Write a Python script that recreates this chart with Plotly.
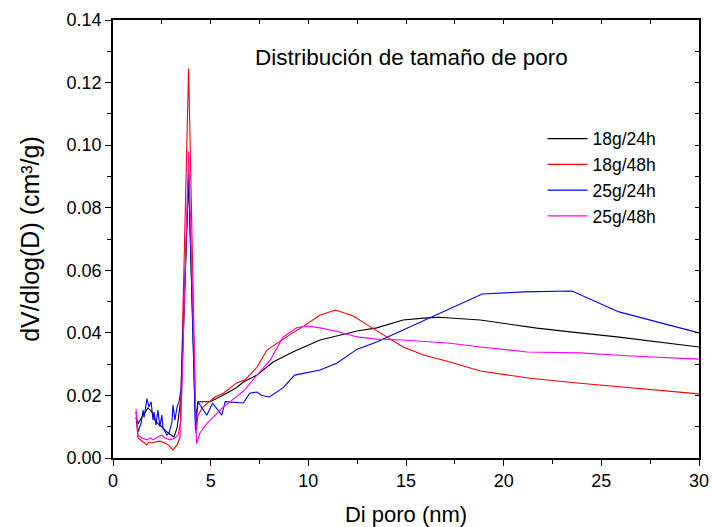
import plotly.graph_objects as go

# Pore size distribution (BJH) for four synthesis conditions
labels = ["18g/24h", "18g/48h", "25g/24h", "25g/48h"]
colors = ["#000000", "#FF0000", "#0000FF", "#FF00FF"]

x_18g_24h = [1.18, 1.28, 1.48, 1.64, 1.79, 2.0, 2.15, 2.3, 2.5, 2.76, 3.0, 3.12, 3.28, 3.38,
             3.5, 3.87, 4.22, 4.35, 4.97, 5.6, 6.3, 6.67, 7.37, 8.2, 9.2, 10.6, 11.45, 12.5,
             13.5, 14.85, 15.9, 16.7, 18.8, 21.7, 23.4, 25.8, 30.0]
y_18g_24h = [0.0130, 0.0110, 0.0130, 0.0147, 0.0160, 0.0147, 0.0121, 0.0110, 0.0100, 0.0083,
             0.0073, 0.0067, 0.0096, 0.0153, 0.0200, 0.0900, 0.0120, 0.0180, 0.0180, 0.0200,
             0.0224, 0.0243, 0.0265, 0.0307, 0.0339, 0.0377, 0.0390, 0.0406, 0.0416, 0.0441,
             0.0447, 0.0450, 0.0441, 0.0415, 0.0403, 0.0387, 0.0355]

x_18g_48h = [1.18, 1.28, 1.54, 1.74, 1.84, 2.0, 2.15, 2.4, 2.66, 2.82, 3.07, 3.28, 3.43,
             3.87, 4.25, 4.35, 4.6, 5.22, 5.65, 6.33, 6.76, 7.37, 7.88, 8.4, 9.2, 9.73, 10.6,
             11.4, 12.3, 13.16, 14.0, 14.85, 15.9, 17.26, 18.8, 21.35, 23.9, 26.1, 30.0]
y_18g_48h = [0.0131, 0.0064, 0.0051, 0.0042, 0.0051, 0.0048, 0.0051, 0.0054, 0.0048, 0.0042,
             0.0026, 0.0042, 0.0067, 0.1245, 0.0080, 0.0137, 0.0163, 0.0195, 0.0207, 0.0240,
             0.0250, 0.0290, 0.0345, 0.0367, 0.0400, 0.0420, 0.0457, 0.0473, 0.0454, 0.0420,
             0.0387, 0.0355, 0.0329, 0.0307, 0.0278, 0.0255, 0.0239, 0.0227, 0.0205]

x_25g_24h = [1.18, 1.28, 1.43, 1.54, 1.59, 1.74, 1.84, 1.95, 2.05, 2.1, 2.2, 2.3, 2.4, 2.5,
             2.56, 2.66, 2.76, 2.87, 3.02, 3.07, 3.17, 3.28, 3.38, 3.48, 3.87, 4.22, 4.35, 4.8,
             5.1, 5.57, 5.74, 6.67, 7.0, 7.37, 7.62, 8.0, 8.7, 9.3, 10.6, 11.45, 12.5, 13.5,
             14.85, 18.9, 21.0, 23.5, 25.9, 30.0]
y_25g_24h = [0.0147, 0.0083, 0.0110, 0.0153, 0.0130, 0.0190, 0.0163, 0.0180, 0.0121, 0.0147,
             0.0105, 0.0153, 0.0100, 0.0137, 0.0096, 0.0083, 0.0073, 0.0080, 0.0115, 0.0170,
             0.0121, 0.0163, 0.0180, 0.0217, 0.0910, 0.0090, 0.0180, 0.0137, 0.0175, 0.0137,
             0.0180, 0.0176, 0.0207, 0.0211, 0.0200, 0.0195, 0.0224, 0.0265, 0.0281, 0.0303,
             0.0348, 0.0371, 0.0409, 0.0524, 0.0531, 0.0534, 0.0467, 0.0400]

x_25g_48h = [1.18, 1.28, 1.48, 1.74, 1.9, 2.05, 2.3, 2.5, 2.66, 2.92, 3.17, 3.33, 3.48,
             3.87, 4.28, 4.45, 4.8, 5.22, 5.6, 6.0, 6.7, 7.37, 8.05, 8.7, 9.4, 9.9, 10.6,
             11.45, 12.5, 13.5, 14.85, 17.26, 18.8, 21.2, 23.9, 26.5, 30.0]
y_25g_48h = [0.0157, 0.0073, 0.0064, 0.0058, 0.0064, 0.0058, 0.0068, 0.0073, 0.0064, 0.0058,
             0.0064, 0.0073, 0.0121, 0.0980, 0.0045, 0.0080, 0.0110, 0.0135, 0.0160, 0.0180,
             0.0215, 0.0265, 0.0313, 0.0386, 0.0416, 0.0422, 0.0416, 0.0405, 0.0387, 0.0380,
             0.0377, 0.0367, 0.0355, 0.0339, 0.0336, 0.0326, 0.0316]

series_x = [x_18g_24h, x_18g_48h, x_25g_24h, x_25g_48h]
series_y = [y_18g_24h, y_18g_48h, y_25g_24h, y_25g_48h]

FONT = "Liberation Sans, Arial, sans-serif"

fig = go.Figure()
for name, color, xs, ys in zip(labels, colors, series_x, series_y):
    fig.add_trace(go.Scatter(x=xs, y=ys, mode="lines", name=name,
                             line=dict(color=color, width=1.1)))

# empty trace so the top/right frame axes get drawn
fig.add_trace(go.Scatter(x=[], y=[], xaxis="x2", yaxis="y2", showlegend=False,
                         hoverinfo="skip"))

x_range = [0, 30]
y_range = [0, 0.14]

fig.update_layout(
    width=712, height=527,
    margin=dict(l=113, r=13, t=20, b=69),
    paper_bgcolor="white", plot_bgcolor="white",
    font=dict(family=FONT, color="black", size=18),
    showlegend=True,
    legend=dict(x=0.733, y=0.77, xanchor="left", yanchor="top",
                bgcolor="rgba(0,0,0,0)", font=dict(size=17.5, family=FONT),
                itemwidth=40, tracegroupgap=0),
    xaxis=dict(range=x_range, dtick=5, tick0=0, showgrid=False, zeroline=False,
               automargin=False,
               showline=True, linecolor="black", linewidth=1.5,
               ticks="outside", ticklen=6, tickwidth=1.2, tickcolor="black",
               tickfont=dict(size=18),
               minor=dict(dtick=2.5, ticks="outside", ticklen=4, tickcolor="black",
                          tickwidth=1),
               title=dict(text="Di poro (nm)", font=dict(size=22), standoff=18)),
    yaxis=dict(range=y_range, dtick=0.02, tick0=0, tickformat=".2f", showgrid=False,
               automargin=False,
               zeroline=False, showline=True, linecolor="black", linewidth=1.5,
               ticks="outside", ticklen=6, tickwidth=1.2, tickcolor="black",
               tickfont=dict(size=18),
               minor=dict(dtick=0.01, ticks="outside", ticklen=4, tickcolor="black",
                          tickwidth=1),
               title=dict(text="dV/dlog(D) (cm³/g)", font=dict(size=25), standoff=20)),
    xaxis2=dict(range=x_range, overlaying="x", side="top", anchor="y2",
                automargin=False,
                showgrid=False, zeroline=False, showticklabels=False,
                showline=True, linecolor="black", linewidth=1.5,
                ticks="inside", ticklen=4, tickwidth=1, tickcolor="black", dtick=2.5),
    yaxis2=dict(range=y_range, overlaying="y", side="right", anchor="x2",
                automargin=False,
                showgrid=False, zeroline=False, showticklabels=False,
                showline=True, linecolor="black", linewidth=1.5,
                ticks="inside", ticklen=4, tickwidth=1, tickcolor="black", dtick=0.01),
    annotations=[dict(text="Distribución de tamaño de poro", xref="paper", yref="paper",
                      x=0.51, y=0.915, xanchor="center", yanchor="middle",
                      showarrow=False, font=dict(size=22.5, family=FONT))],
)

fig.write_html("out.html")
